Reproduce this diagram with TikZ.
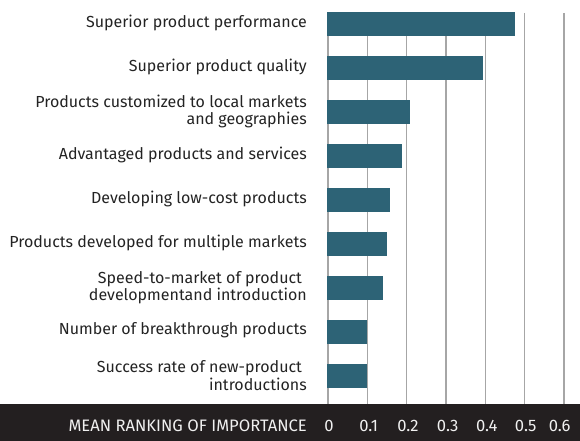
\documentclass[tikz,border=0pt]{standalone}
\usepackage{fontspec}
\setmainfont{Fira Sans}
\definecolor{barblue}{RGB}{45,99,118}
\definecolor{bandblack}{RGB}{35,31,32}
\definecolor{labelgray}{RGB}{35,35,35}

\begin{document}
\begin{tikzpicture}[x = 1pt, y = -1pt,
    gridline/.style = {draw = gray!70, line width = 1.1pt},
    rankbar/.style = {fill = barblue},
    factor/.style = {anchor = east, align = right, text = labelgray, inner sep = 0pt, font = \fontsize{16}{17.5}\selectfont},
    ticklabel/.style = {text = gray!12, inner sep = 0pt, font = \fontsize{16.6}{17}\selectfont},
    ]
    \useasboundingbox (0, 0) rectangle (580, 441);

    % grid
    \foreach \k in {0, ..., 6}
        \draw[gridline] ({328 + 39.33*\k}, 13) -- ({328 + 39.33*\k}, 404);

    % bars
    \path[rankbar] (327, 12) rectangle (515, 36);
    \path[rankbar] (327, 56) rectangle (483, 80);
    \path[rankbar] (327, 100) rectangle (410, 124);
    \path[rankbar] (327, 144) rectangle (402, 168);
    \path[rankbar] (327, 188) rectangle (390, 212);
    \path[rankbar] (327, 232) rectangle (387, 256);
    \path[rankbar] (327, 276) rectangle (383, 300);
    \path[rankbar] (327, 320) rectangle (367, 344);
    \path[rankbar] (327, 364) rectangle (367, 388);

    % labels
    \node[factor] (perf) at (307, 22.5) {Superior product performance};
    \node[factor] (qual) at (307, 66.5) {Superior product quality};
    \node[factor] (local) at (307, 111.5) {Products customized to local markets\\and geographies};
    \node[factor] (adv) at (307, 154.5) {Advantaged products and services};
    \node[factor] (lowcost) at (307, 198.5) {Developing low-cost products};
    \node[factor] (multi) at (307, 242.5) {Products developed for multiple markets};
    \node[factor] (speed) at (307, 287.5) {Speed-to-market of product\kern0.3em\\developmentand introduction};
    \node[factor] (breakth) at (307, 330.5) {Number of breakthrough products};
    \node[factor] (success) at (307, 375.5) {Success rate of new-product\kern0.3em\\introductions};

    % axis band
    \fill[bandblack] (0, 404) rectangle (580, 441);
    \node[ticklabel, anchor = east] (axtitle) at (307, 426) {MEAN RANKING OF IMPORTANCE};
    \node[ticklabel] (t0) at (329, 426) {0};
    \node[ticklabel] (t1) at (368.7, 426) {0.1};
    \node[ticklabel] (t2) at (408, 426) {0.2};
    \node[ticklabel] (t3) at (447.7, 426) {0.3};
    \node[ticklabel] (t4) at (486.7, 426) {0.4};
    \node[ticklabel] (t5) at (525.7, 426) {0.5};
    \node[ticklabel] (t6) at (559.7, 426) {0.6};
\end{tikzpicture}
\end{document}
